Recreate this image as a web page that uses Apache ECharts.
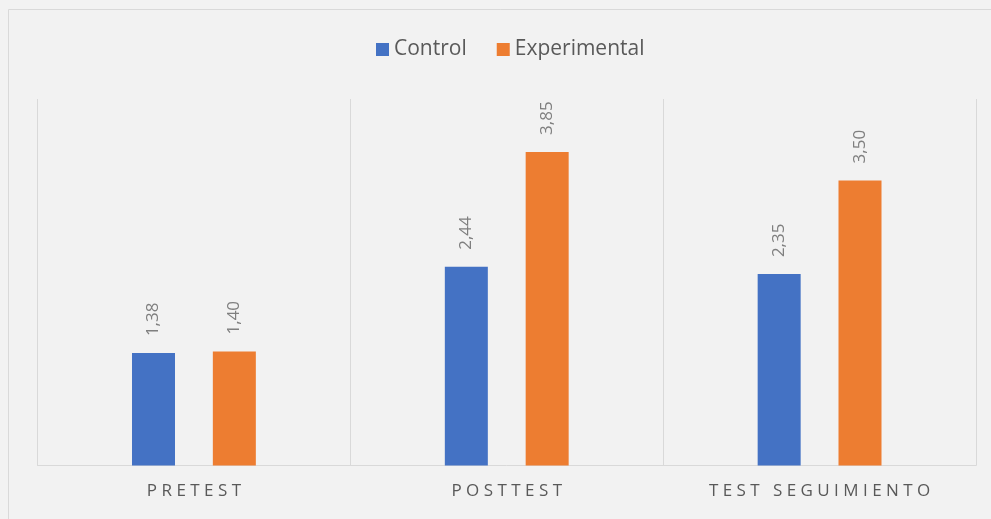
<!DOCTYPE html>
<html>
<head>
<meta charset="utf-8">
<script src="https://cdn.jsdelivr.net/npm/echarts@6/dist/echarts.min.js"></script>
<style>
html,body{margin:0;padding:0;background:#f2f2f2;}
#chart{width:991px;height:519px;}
</style>
</head>
<body>
<div id="chart"></div>
<script>
const categories = ['PRETEST', 'POSTTEST', 'TEST SEGUIMIENTO'];
const seriesNames = ['Control', 'Experimental'];
const controlValues = [1.38, 2.44, 2.35];
const experimentalValues = [1.40, 3.85, 3.50];

const chart = echarts.init(document.getElementById('chart'), null, {renderer: 'canvas'});
const fmt = v => v.toFixed(2).replace('.', ',');
const spaced = s => s.split('').join(' ');

const labelCfg = {
  show: true,
  position: 'top',
  rotate: 90,
  align: 'left',
  verticalAlign: 'middle',
  distance: 17,
  color: '#7f7f7f',
  fontSize: 17,
  fontFamily: 'Open Sans',
  formatter: p => fmt(p.value)
};

chart.setOption({
  backgroundColor: '#f2f2f2',
  animation: false,
  graphic: [{
    type: 'rect',
    silent: true,
    shape: {x: 8.5, y: 9.5, width: 1000, height: 600},
    style: {fill: 'none', stroke: '#d9d9d9', lineWidth: 1}
  }],
  legend: {
    data: seriesNames,
    left: 376,
    top: 39,
    padding: 0,
    itemWidth: 13,
    itemHeight: 13,
    itemGap: 30,
    icon: 'rect',
    textStyle: {color: '#595959', fontSize: 21, fontFamily: 'Open Sans'}
  },
  grid: {left: 37.5, right: 15, top: 99, bottom: 53.5, containLabel: false},
  xAxis: {
    type: 'category',
    data: categories,
    axisLine: {lineStyle: {color: '#d9d9d9', width: 1}},
    axisTick: {show: false},
    splitLine: {show: true, lineStyle: {color: '#d9d9d9', width: 1}},
    axisLabel: {
      color: '#595959',
      fontSize: 17,
      fontFamily: 'Open Sans',
      margin: 17,
      formatter: v => spaced(v)
    }
  },
  yAxis: {
    type: 'value',
    min: 0,
    max: 4.5,
    show: false,
    splitLine: {show: false}
  },
  series: [
    {
      name: seriesNames[0],
      type: 'bar',
      data: controlValues,
      barWidth: 43,
      barGap: '88%',
      itemStyle: {color: '#4472C4'},
      label: labelCfg
    },
    {
      name: seriesNames[1],
      type: 'bar',
      data: experimentalValues,
      barWidth: 43,
      barGap: '88%',
      itemStyle: {color: '#ED7D31'},
      label: labelCfg
    }
  ]
});
</script>
</body>
</html>
